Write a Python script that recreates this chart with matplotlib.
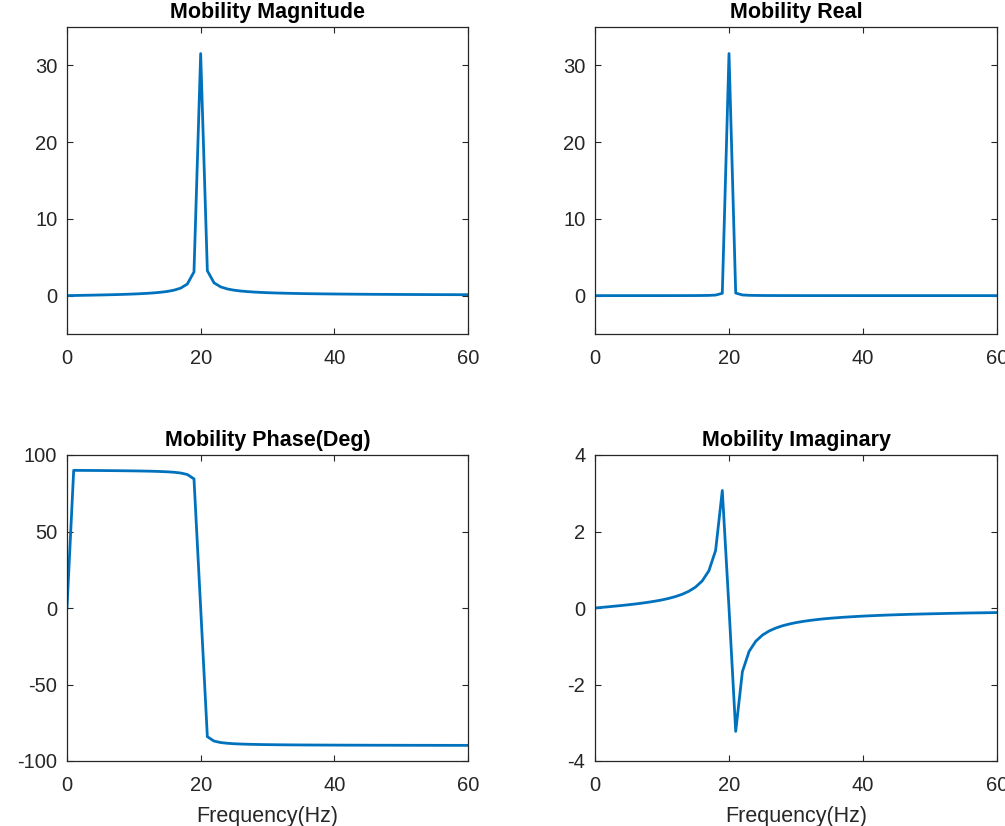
import numpy as np
import matplotlib
matplotlib.use("Agg")
import matplotlib.pyplot as plt

plt.rcParams['font.family'] = ['Liberation Sans', 'DejaVu Sans']
plt.rcParams['axes.unicode_minus'] = False  # 负号用普通连字符

# ==================== 数据（从图中读取，0-60 Hz，步长 1 Hz） ====================
freq = list(range(0, 61))

mob_imag = [0.0, 0.016, 0.032, 0.049, 0.066, 0.085, 0.105, 0.127, 0.152, 0.180,
            0.212, 0.251, 0.298, 0.358, 0.437, 0.546, 0.707, 0.974, 1.504, 3.072,
            0.0, -3.226, -1.663, -1.135, -0.868, -0.707, -0.600, -0.523, -0.464, -0.419,
            -0.382, -0.352, -0.327, -0.305, -0.286, -0.270, -0.256, -0.243, -0.232, -0.222,
            -0.212, -0.204, -0.196, -0.189, -0.182, -0.176, -0.171, -0.165, -0.161, -0.156,
            -0.152, -0.148, -0.144, -0.140, -0.137, -0.133, -0.130, -0.127, -0.125, -0.122,
            -0.119]

mob_real = [0.0, 0.0, 0.0, 0.0, 0.0, 0.0, 0.0, 0.0, 0.001, 0.001,
            0.001, 0.002, 0.003, 0.004, 0.006, 0.009, 0.016, 0.030, 0.072, 0.302,
            31.54, 0.334, 0.088, 0.041, 0.024, 0.016, 0.011, 0.009, 0.007, 0.006,
            0.005, 0.004, 0.003, 0.003, 0.003, 0.002, 0.002, 0.002, 0.002, 0.001,
            0.001, 0.001, 0.001, 0.001, 0.001, 0.001, 0.001, 0.001, 0.001, 0.001,
            0.001, 0.001, 0.001, 0.0, 0.0, 0.0, 0.0, 0.0, 0.0, 0.0,
            0.0]

mob_mag = [0.0, 0.016, 0.032, 0.049, 0.066, 0.085, 0.105, 0.127, 0.152, 0.180,
           0.212, 0.251, 0.298, 0.358, 0.437, 0.546, 0.707, 0.974, 1.506, 3.087,
           31.54, 3.243, 1.665, 1.136, 0.868, 0.707, 0.600, 0.523, 0.464, 0.419,
           0.382, 0.352, 0.327, 0.305, 0.286, 0.270, 0.256, 0.243, 0.232, 0.222,
           0.212, 0.204, 0.196, 0.189, 0.182, 0.176, 0.171, 0.165, 0.161, 0.156,
           0.152, 0.148, 0.144, 0.140, 0.137, 0.133, 0.130, 0.127, 0.125, 0.122,
           0.119]

mob_phase = [0.0, 89.97, 89.94, 89.91, 89.88, 89.85, 89.81, 89.77, 89.72, 89.67,
             89.61, 89.54, 89.46, 89.35, 89.20, 89.01, 88.72, 88.23, 87.26, 84.39,
             0.0, -84.10, -86.97, -87.94, -88.42, -88.72, -88.91, -89.05, -89.16, -89.24,
             -89.31, -89.36, -89.41, -89.45, -89.48, -89.51, -89.54, -89.56, -89.58, -89.60,
             -89.61, -89.63, -89.64, -89.65, -89.67, -89.68, -89.69, -89.70, -89.70, -89.71,
             -89.72, -89.73, -89.73, -89.74, -89.75, -89.76, -89.76, -89.77, -89.77, -89.78,
             -89.78]

titles = ['Mobility Magnitude', 'Mobility Real', 'Mobility Phase(Deg)', 'Mobility Imaginary']
series = [mob_mag, mob_real, mob_phase, mob_imag]
ylims = [(-5, 35), (-5, 35), (-100, 100), (-4, 4)]
yticks = [[0, 10, 20, 30], [0, 10, 20, 30], [-100, -50, 0, 50, 100], [-4, -2, 0, 2, 4]]

# 子图位置（像素换算）
W, H = 1005, 826
boxes = [(67, 27, 468, 334), (595, 27, 997, 334),
         (67, 455, 468, 761), (595, 455, 997, 761)]

line_color = '#0072BD'
axis_color = '#262626'

fig = plt.figure(figsize=(W / 100, H / 100), dpi=100)

for i in range(4):
    x0, y0, x1, y1 = boxes[i]
    ax = fig.add_axes([x0 / W, 1 - y1 / H, (x1 - x0) / W, (y1 - y0) / H])
    ax.plot(freq, series[i], color=line_color, linewidth=2.0)
    ax.set_xlim(0, 60)
    ax.set_ylim(*ylims[i])
    ax.set_xticks([0, 20, 40, 60])
    ax.set_yticks(yticks[i])
    ax.tick_params(direction='in', length=4, width=0.8, top=True, right=True,
                   labelsize=14.5, colors=axis_color)
    ax.tick_params(axis='x', pad=11)
    ax.tick_params(axis='y', pad=7)
    for sp in ax.spines.values():
        sp.set_color(axis_color)
        sp.set_linewidth(0.9)
    ax.set_title(titles[i], fontsize=15.5, fontweight='bold', color='black', pad=6.5)
    if i >= 2:
        ax.set_xlabel('Frequency(Hz)', fontsize=15.5, color=axis_color, labelpad=8)

fig.savefig('out.png', dpi=100)
